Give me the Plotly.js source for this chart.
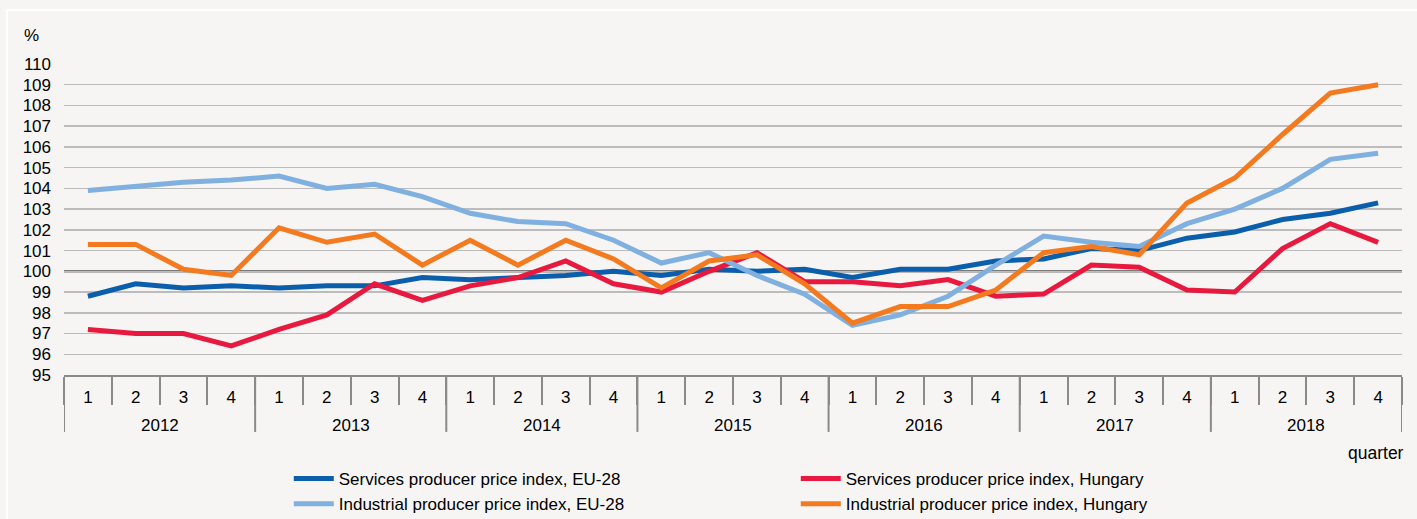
<!DOCTYPE html>
<html>
<head>
<meta charset="utf-8">
<script src="https://cdn.plot.ly/plotly-3.0.1.min.js"></script>
<style>
html,body{margin:0;padding:0;background:#f6f5f3;}
#chart{width:1417px;height:519px;}
</style>
</head>
<body>
<div id="chart"></div>
<script>
const years = ['2012','2013','2014','2015','2016','2017','2018'];
const quarterLabels = ['1','2','3','4'];

const servicesEU = [98.8,99.4,99.2,99.3, 99.2,99.3,99.3,99.7, 99.6,99.7,99.8,100.0, 99.8,100.1,100.0,100.1, 99.7,100.1,100.1,100.5, 100.6,101.1,101.0,101.6, 101.9,102.5,102.8,103.3];
const servicesHU = [97.2,97.0,97.0,96.4, 97.2,97.9,99.4,98.6, 99.3,99.7,100.5,99.4, 99.0,100.0,100.9,99.5, 99.5,99.3,99.6,98.8, 98.9,100.3,100.2,99.1, 99.0,101.1,102.3,101.4];
const industrialEU = [103.9,104.1,104.3,104.4, 104.6,104.0,104.2,103.6, 102.8,102.4,102.3,101.5, 100.4,100.9,99.8,98.9, 97.4,97.9,98.8,100.3, 101.7,101.4,101.2,102.3, 103.0,104.0,105.4,105.7];
const industrialHU = [101.3,101.3,100.1,99.8, 102.1,101.4,101.8,100.3, 101.5,100.3,101.5,100.6, 99.2,100.5,100.8,99.4, 97.5,98.3,98.3,99.1, 100.9,101.2,100.8,103.3, 104.5,106.6,108.6,109.0];

const seriesNames = ['Services producer price index, EU-28','Services producer price index, Hungary','Industrial producer price index, EU-28','Industrial producer price index, Hungary'];
const baseline = 100;

// build the quarter positions and labels from the arrays above
const qText = [], qPos = [];
years.forEach((y, yi) => quarterLabels.forEach((q, qi) => {
  qPos.push(yi * quarterLabels.length + qi);
  qText.push(q);
}));
const nQ = quarterLabels.length;
const boundaries = [];
for (let i = 0; i <= qPos.length; i++) boundaries.push(i - 0.5);

const colors = ['#0a5eab','#e8193f','#7fb0df','#f47a20'];
const data = [servicesEU, servicesHU, industrialEU, industrialHU];
const traces = data.map((vals, i) => ({
  type: 'scatter', mode: 'lines', x: qPos, y: vals, name: seriesNames[i],
  line: {color: colors[i], width: 5}
}));

const font = 'Liberation Sans, Arial, sans-serif';
const axisGrey = '#8a8a8a';

const shapes = [
  // thin white frame of the original figure
  {type: 'rect', xref: 'paper', yref: 'paper', x0: -0.0426, x1: 1.05, y0: -0.6, y1: 1.1736,
    line: {color: '#ffffff', width: 2}, fillcolor: 'rgba(0,0,0,0)', layer: 'below'},
  {type: 'line', xref: 'paper', x0: 0, x1: 1, yref: 'y', y0: baseline, y1: baseline,
    line: {color: '#7a7a7a', width: 2.5}, layer: 'between'}
];
// year dividers (at year boundaries, including both ends)
for (let yi = 0; yi <= years.length; yi++) {
  const xb = yi * nQ - 0.5;
  shapes.push({type: 'line', xref: 'x', x0: xb, x1: xb, yref: 'paper', y0: 0, y1: -0.183,
    line: {color: axisGrey, width: 2}});
}

const annotations = [
  {text: '%', xref: 'paper', yref: 'paper', x: -0.024, y: 1.093, xanchor: 'center', yanchor: 'middle', showarrow: false, font: {family: font, size: 17}},
  {text: 'quarter', xref: 'paper', yref: 'paper', x: 0.9805, y: -0.252, xanchor: 'center', yanchor: 'middle', showarrow: false, font: {family: font, size: 17.5}}
];
years.forEach((y, yi) => annotations.push({
  text: y, xref: 'x', yref: 'paper', x: yi * nQ + (nQ - 1) / 2, y: -0.161, xanchor: 'center', yanchor: 'middle',
  showarrow: false, font: {family: font, size: 17}
}));

const layout = {
  width: 1417, height: 519,
  paper_bgcolor: '#f6f5f3', plot_bgcolor: '#f6f5f3',
  margin: {l: 64, r: 15, t: 64, b: 144, autoexpand: false},
  font: {family: font, size: 17, color: '#000'},
  showlegend: true,
  legend: {orientation: 'h', x: 0.168, y: -0.2765, xanchor: 'left', yanchor: 'top',
    entrywidth: 452, font: {family: font, size: 17}, bgcolor: 'rgba(0,0,0,0)',
    tracegroupgap: 0, itemwidth: 40},
  xaxis: {
    range: [-0.5, qPos.length - 0.5], tickmode: 'array', tickvals: qPos, ticktext: qText,
    showline: true, linecolor: axisGrey, linewidth: 2, ticks: '',
    minor: {tickmode: 'array', tickvals: boundaries, ticks: 'outside', ticklen: 28, tickcolor: axisGrey, tickwidth: 2, showgrid: false},
    showgrid: false, zeroline: false, tickfont: {family: font, size: 17}, ticklabelstandoff: 6
  },
  yaxis: {
    range: [95, 110], dtick: 1, tick0: 95,
    showgrid: true, gridcolor: '#bcbcbc', gridwidth: 1.5,
    zeroline: false, showline: false, ticks: '',
    ticklabelstandoff: 12, tickfont: {family: font, size: 17}
  },
  shapes: shapes,
  annotations: annotations
};

Plotly.newPlot('chart', traces, layout, {displayModeBar: false, staticPlot: true});
</script>
</body>
</html>
